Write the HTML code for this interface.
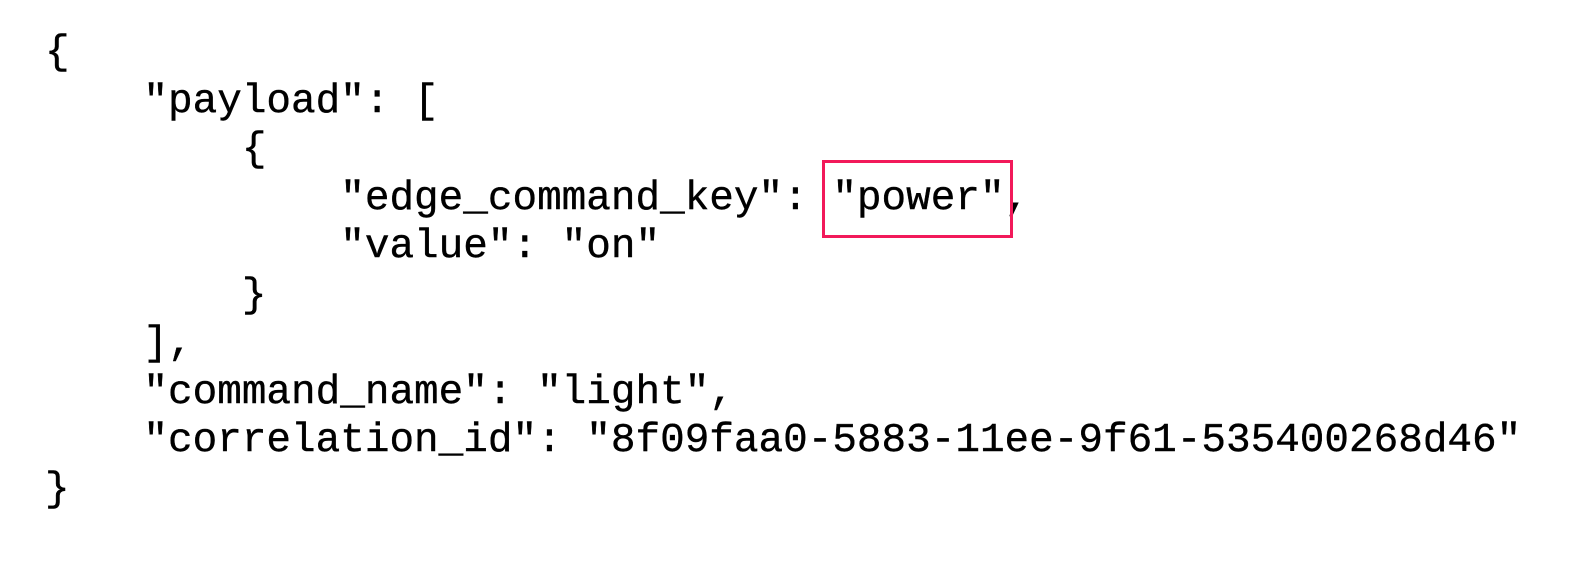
<!DOCTYPE html>
<html><head><style>
html,body{margin:0;padding:0;background:#fff;width:1574px;height:572px;overflow:hidden;}
pre{position:absolute;left:45px;top:29px;margin:0;font-family:"Liberation Mono",monospace;font-size:41px;line-height:48.5px;color:#000;-webkit-text-stroke:0.4px #000;}
.box{position:absolute;left:822px;top:160px;width:185px;height:72px;border:3px solid #f2195a;}
</style></head><body>
<pre>{
    "payload": [
        {
            "edge_command_key": "power",
            "value": "on"
        }
    ],
    "command_name": "light",
    "correlation_id": "8f09faa0-5883-11ee-9f61-535400268d46"
}</pre>
<div class="box"></div>
</body></html>
